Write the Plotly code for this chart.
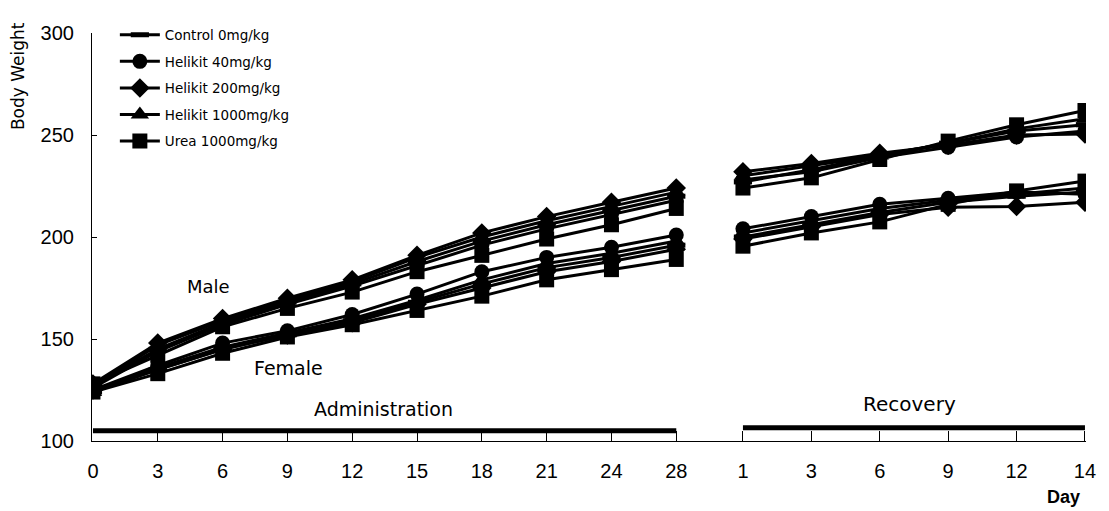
import plotly.graph_objects as go

# ---- data ----
admin_days = ["0", "3", "6", "9", "12", "15", "18", "21", "24", "28"]
recovery_days = ["1", "3", "6", "9", "12", "14"]

series_names = ["Control 0mg/kg", "Helikit 40mg/kg", "Helikit 200mg/kg",
                "Helikit 1000mg/kg", "Urea 1000mg/kg"]
series_symbols = ["line-ew", "circle", "diamond", "triangle-up", "square"]

# Male: administration (10 points) + recovery (6 points)
male_control = [127, 145, 158, 168, 177, 188, 198, 206, 213, 220, 227, 233, 240, 246, 252, 255]
male_h40 = [126, 144, 157, 167, 176, 186, 196, 204, 211, 218, 228, 232, 239, 244, 249, 252]
male_h200 = [128, 148, 160, 170, 179, 191, 202, 210, 217, 224, 232, 236, 241, 245, 250, 250.5]
male_h1000 = [127, 147, 159, 169, 178, 190, 200, 208, 215, 222, 230, 235, 240, 246, 253, 258]
male_urea = [128, 142, 156, 165, 173, 183, 191, 199, 206, 214, 224, 229, 238, 247, 255, 262]

# Female
female_control = [124, 135, 145, 152, 159, 168, 177, 185, 190, 196, 200, 206, 212, 217, 220, 222]
female_h40 = [125, 137, 148, 154, 162, 172, 183, 190, 195, 201, 204, 210, 216, 219, 222, 221]
female_h200 = [125, 135, 145, 152, 158, 167, 175, 183, 188, 194, 199, 205, 211, 214.6, 215, 217]
female_h1000 = [124, 136, 146, 153, 160, 169, 179, 187, 192, 198, 202, 208, 214, 218, 221, 224]
female_urea = [124, 133, 143, 151, 157, 164, 171, 179, 184, 189, 195.5, 202, 207.4, 216, 222.6, 227.4]

male = [male_control, male_h40, male_h200, male_h1000, male_urea]
female = [female_control, female_h40, female_h200, female_h1000, female_urea]

period_labels = ["Administration", "Recovery"]
period_bar_levels = [105, 106.5]
y_ticks = [100, 150, 200, 250, 300]

# ---- style ----
SANS = "Liberation Sans, Arial, sans-serif"
WIDE = "DejaVu Sans, Verdana, sans-serif"
BODY = 8  # default page margin around the plot div
W, H = 1109 - BODY, 511 - BODY
ml, mr, mt, mb = 92 - BODY, 23, 24 - BODY, 70
pw, ph = W - ml - mr, H - mt - mb
split = 0.6217  # boundary between administration and recovery panels (paper)


def px(xp, yp):
    # page pixel -> paper coordinates
    return (xp - BODY - ml) / pw, 1 - (yp - BODY - mt) / ph


fig = go.Figure()
na = len(admin_days)
xa = list(range(na))
xr = list(range(len(recovery_days)))

for i, name in enumerate(series_names):
    sym = series_symbols[i]
    if sym == "line-ew":
        marker = dict(symbol=sym, size=13, color="black", line=dict(color="black", width=5))
    else:
        marker = dict(symbol=sym, size=16 if sym == "triangle-up" else 15, color="black",
                      line=dict(color="black", width=0))
    for g, grp in enumerate([male, female]):
        vals = grp[i]
        fig.add_trace(go.Scatter(
            x=xa, y=vals[:na], xaxis="x", yaxis="y", mode="lines+markers", name=name,
            legendgroup=name, showlegend=(g == 0),
            line=dict(color="black", width=3), marker=marker))
        fig.add_trace(go.Scatter(
            x=xr, y=vals[na:], xaxis="x2", yaxis="y", mode="lines+markers", name=name,
            legendgroup=name, showlegend=False,
            line=dict(color="black", width=3), marker=marker))

# period bars
fig.add_shape(type="line", xref="x", yref="y", x0=xa[0], x1=xa[-1],
              y0=period_bar_levels[0], y1=period_bar_levels[0],
              line=dict(color="black", width=5))
fig.add_shape(type="line", xref="x2", yref="y", x0=xr[0], x1=xr[-1],
              y0=period_bar_levels[1], y1=period_bar_levels[1],
              line=dict(color="black", width=5))

texts = [
    (period_labels[0], 383, 408, WIDE, 19, 0),
    (period_labels[1], 909, 403, WIDE, 20, 0),
    ("Male", 208, 283, WIDE, 18, 0),
    ("Female", 288, 366, WIDE, 19, 0),
    ("Body Weight", 18, 68, WIDE, 17, -90),
    ("<b>Day</b>", 1063, 498, SANS, 18, 0),
]
for t, xp, yp, fam, sz, ang in texts:
    x, y = px(xp, yp)
    fig.add_annotation(x=x, y=y, xref="paper", yref="paper", text=t, textangle=ang,
                       showarrow=False, xanchor="center", yanchor="middle",
                       font=dict(family=fam, size=sz, color="black"))

axis_common = dict(showline=True, linecolor="black", linewidth=1.2, ticks="inside",
                   ticklen=10, tickcolor="black", tickwidth=1, showgrid=False,
                   zeroline=False, ticklabelstandoff=12, automargin=False,
                   tickfont=dict(family=SANS, size=20, color="black"))

fig.update_layout(
    width=W, height=H,
    margin=dict(l=ml, r=mr, t=mt, b=mb),
    paper_bgcolor="white", plot_bgcolor="white",
    font=dict(family=SANS, size=16, color="black"),
    showlegend=True,
    legend=dict(x=0.023, y=1.033, xanchor="left", yanchor="top",
                bgcolor="rgba(0,0,0,0)", font=dict(family=WIDE, size=13.5, color="black"),
                tracegroupgap=6, itemwidth=40),
    xaxis=dict(domain=[0, split], range=[-0.015, 9.52], tickmode="array",
               tickvals=xa, ticktext=admin_days, anchor="y", **axis_common),
    xaxis2=dict(domain=[split, 1], range=[-0.482, 5.015], tickmode="array",
                tickvals=xr, ticktext=recovery_days, anchor="y", **axis_common),
    yaxis=dict(range=[100, 300], tickvals=y_ticks, showline=True, linecolor="black",
               linewidth=1.2, ticks="inside", ticklen=5, tickcolor="black",
               showgrid=False, zeroline=False, ticklabelstandoff=13, automargin=False,
               tickfont=dict(family=SANS, size=20, color="black")),
)

fig.write_html("out.html")
